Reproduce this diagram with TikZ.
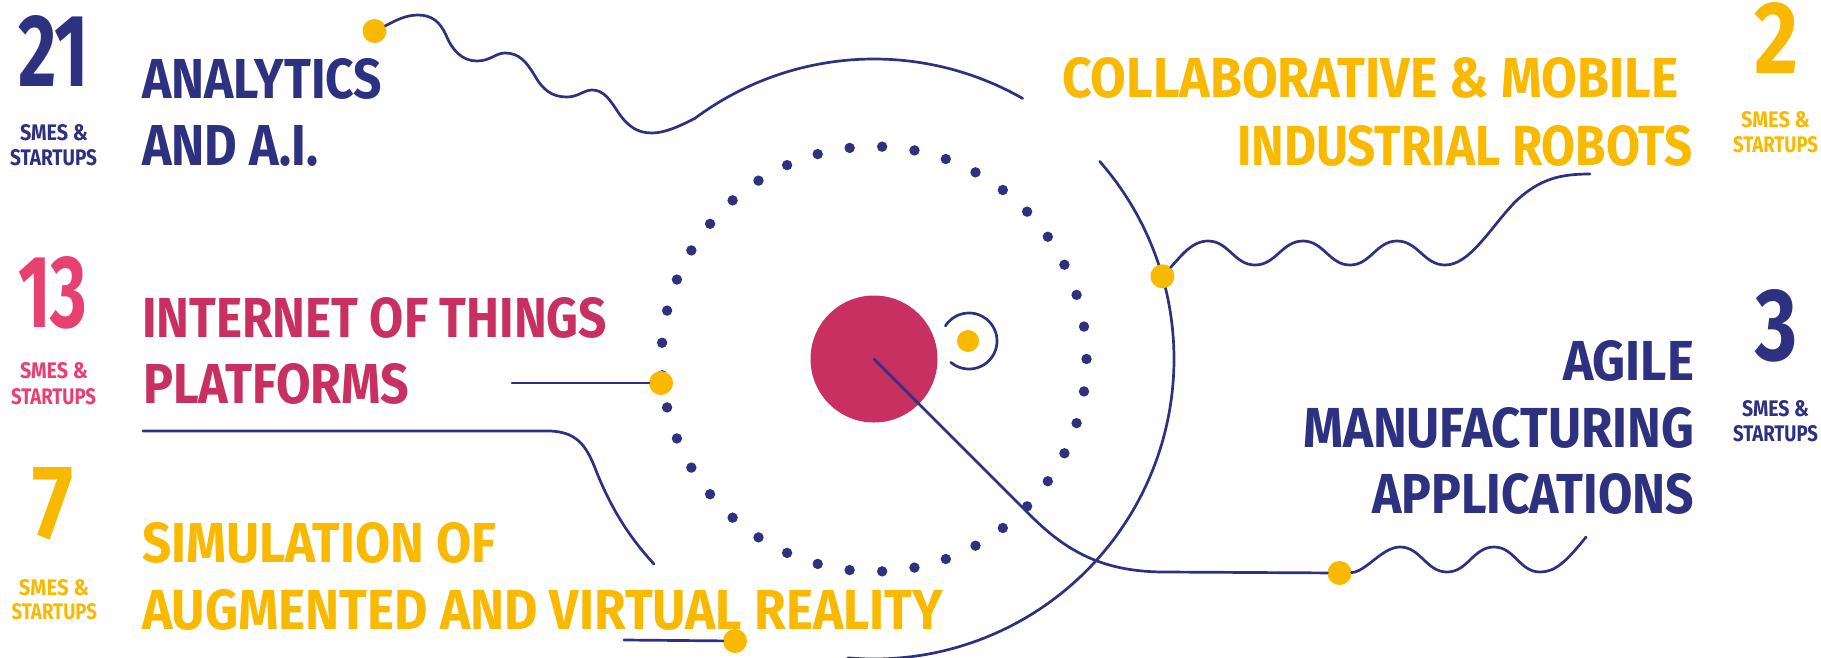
\documentclass[tikz,border=0pt]{standalone}
\usepackage{fontspec}
\setmainfont{Fira Sans}
\usepackage{graphicx}
\definecolor{navy}{RGB}{46,49,128}
\definecolor{yel}{RGB}{249,185,0}
\definecolor{pinkA}{RGB}{232,64,112}
\definecolor{pinkB}{RGB}{200,48,98}
\tikzset{
  lbl/.style={anchor=north west, inner sep=0pt, outer sep=0pt},
  ydot/.style={circle, fill=yel, inner sep=0pt, outer sep=0pt, minimum size=24pt},
  conn/.style={draw=navy, line width=2.7pt, line cap=round, line join=round},
}
\newcommand{\fitbox}[3]{\resizebox{#1pt}{#2pt}{\bfseries #3}}
\begin{document}
\begin{tikzpicture}[x=1pt,y=-1pt]
\fill[white] (0,0) rectangle (1821,657);
\useasboundingbox (0,0) rectangle (1821,657);

% big circle arcs
\draw[conn] plot[domain=-126.6:-60.3, samples=60, smooth, variable=\t] ({874+300*cos(\t)},{359+300*sin(\t)});
\draw[conn] plot[domain=-41.2:95, samples=90, smooth, variable=\t] ({874+300*cos(\t)},{359+300*sin(\t)});

% dotted ring
\foreach \i in {0,...,40}{
  \fill[navy] ({874+212.5*cos(\i*360/41)},{359+212.5*sin(\i*360/41)}) circle[radius=5.2];
}

% small orbit
\draw[conn] plot[domain=-147.5:130.4, samples=50, smooth, variable=\t] ({969+28*cos(\t)},{341+28*sin(\t)});

% pink core
\node[circle, fill=pinkB, inner sep=0pt, minimum size=127pt] (core) at (874,359) {};

% yellow end dots
\node[ydot] (dotA) at (374.5,31) {};
\node[ydot] (dotB) at (1339.5,573) {};
\node[ydot] (dotC) at (1162.4,276.3) {};
\node[ydot] (dotD) at (661,383) {};
\node[ydot] (dotE) at (735,641) {};
\node[ydot, minimum size=22pt] (dotF) at (968,341) {};

% free ends
\coordinate (iotS) at (512,383);
\coordinate (simS) at (143,431);
\coordinate (simE) at (654,564);
\coordinate (ulS) at (624,640);

% analytics wave
\draw[conn] (dotA) .. controls (395,21) and (405,15) .. (418,15)
  .. controls (432,15) and (440,22) .. (446,35)
  .. controls (452,50) and (462,61) .. (477,61)
  .. controls (490,61) and (496,53) .. (505,53)
  .. controls (520,53) and (527,63) .. (535,76)
  .. controls (543,90) and (552,97) .. (567,97)
  .. controls (578,97) and (584,90) .. (592,90)
  .. controls (604,90) and (610,100) .. (618,112)
  .. controls (628,127) and (638,133) .. (652,133)
  .. controls (665,133) and (680,126) .. (695.1,118.2);

% collaborative wave
\draw[conn] (dotC) .. controls (1182,255) and (1192,241) .. (1208,241)
  to[out=0,in=180] (1255,265) to[out=0,in=180] (1303,241)
  to[out=0,in=180] (1350,265) to[out=0,in=180] (1397,241)
  to[out=0,in=180] (1445,265)
  .. controls (1470,265) and (1490,228) .. (1515,202)
  .. controls (1540,178) and (1562,174) .. (1590,174);

% agile connector
\draw[conn] (core.center) -- (1025,510) .. controls (1062,548) and (1098,572) .. (1165,572) -- (dotB);
\draw[conn] (dotB) .. controls (1366,572) and (1382,547) .. (1400,547)
  to[out=0,in=180] (1447,572) to[out=0,in=180] (1494,547)
  to[out=0,in=180] (1540,572)
  .. controls (1555,572) and (1566,562) .. (1586,537);

% IoT connector
\draw[conn] (iotS) -- (dotD);

% simulation connectors
\draw[conn] (simS) -- (548,431) .. controls (580,431) and (588,450) .. (597,473)
  .. controls (612,510) and (630,538) .. (simE);
\draw[conn] (ulS) -- (dotE);

% left column texts
\node[lbl, text=navy] (n21) at (18,15) {\fitbox{71}{71}{21}};
\node[lbl, text=navy] (s21a) at (20,124) {\fitbox{68}{16}{SMES \&}};
\node[lbl, text=navy] (s21b) at (10,149) {\fitbox{87}{16}{STARTUPS}};
\node[lbl, text=navy] (tA1) at (142,58) {\fitbox{240}{40}{ANALYTICS}};
\node[lbl, text=navy] (tA2) at (142,125) {\fitbox{176}{40}{AND A.I.}};

\node[lbl, text=pinkA] (n13) at (18,256) {\fitbox{69}{71}{13}};
\node[lbl, text=pinkA] (s13a) at (20,362) {\fitbox{68}{16}{SMES \&}};
\node[lbl, text=pinkA] (s13b) at (11,388) {\fitbox{85}{16}{STARTUPS}};
\node[lbl, text=pinkB] (tI1) at (142,297) {\fitbox{465}{40}{INTERNET OF THINGS}};
\node[lbl, text=pinkB] (tI2) at (143,363) {\fitbox{266}{40}{PLATFORMS}};

\node[lbl, text=yel] (n7) at (32,467) {\fitbox{41}{71}{7}};
\node[lbl, text=yel] (s7a) at (19,579) {\fitbox{70}{16}{SMES \&}};
\node[lbl, text=yel] (s7b) at (11.5,603) {\fitbox{85.5}{16}{STARTUPS}};
\node[lbl, text=yel] (tS1) at (142,522) {\fitbox{354}{40}{SIMULATION OF}};
\node[lbl, text=yel] (tS2) at (142,589) {\fitbox{801}{40}{AUGMENTED AND VIRTUAL REALITY}};

% right column texts
\node[lbl, text=yel] (n2) at (1754,2) {\fitbox{44}{71}{2}};
\node[lbl, text=yel] (s2a) at (1741,111) {\fitbox{69}{16}{SMES \&}};
\node[lbl, text=yel] (s2b) at (1733,136) {\fitbox{85}{16}{STARTUPS}};
\node[lbl, text=yel] (tC1) at (1062,57) {\fitbox{616}{40}{COLLABORATIVE \& MOBILE}};
\node[lbl, text=yel] (tC2) at (1237,125) {\fitbox{455}{40}{INDUSTRIAL ROBOTS}};

\node[lbl, text=navy] (n3) at (1755,289) {\fitbox{42}{71}{3}};
\node[lbl, text=navy] (s3a) at (1742,400) {\fitbox{67}{16}{SMES \&}};
\node[lbl, text=navy] (s3b) at (1733,425) {\fitbox{85}{16}{STARTUPS}};
\node[lbl, text=navy] (tG1) at (1563,340) {\fitbox{131}{40}{AGILE}};
\node[lbl, text=navy] (tG2) at (1303,407) {\fitbox{391}{40}{MANUFACTURING}};
\node[lbl, text=navy] (tG3) at (1372,473) {\fitbox{322}{40}{APPLICATIONS}};
\end{tikzpicture}
\end{document}
